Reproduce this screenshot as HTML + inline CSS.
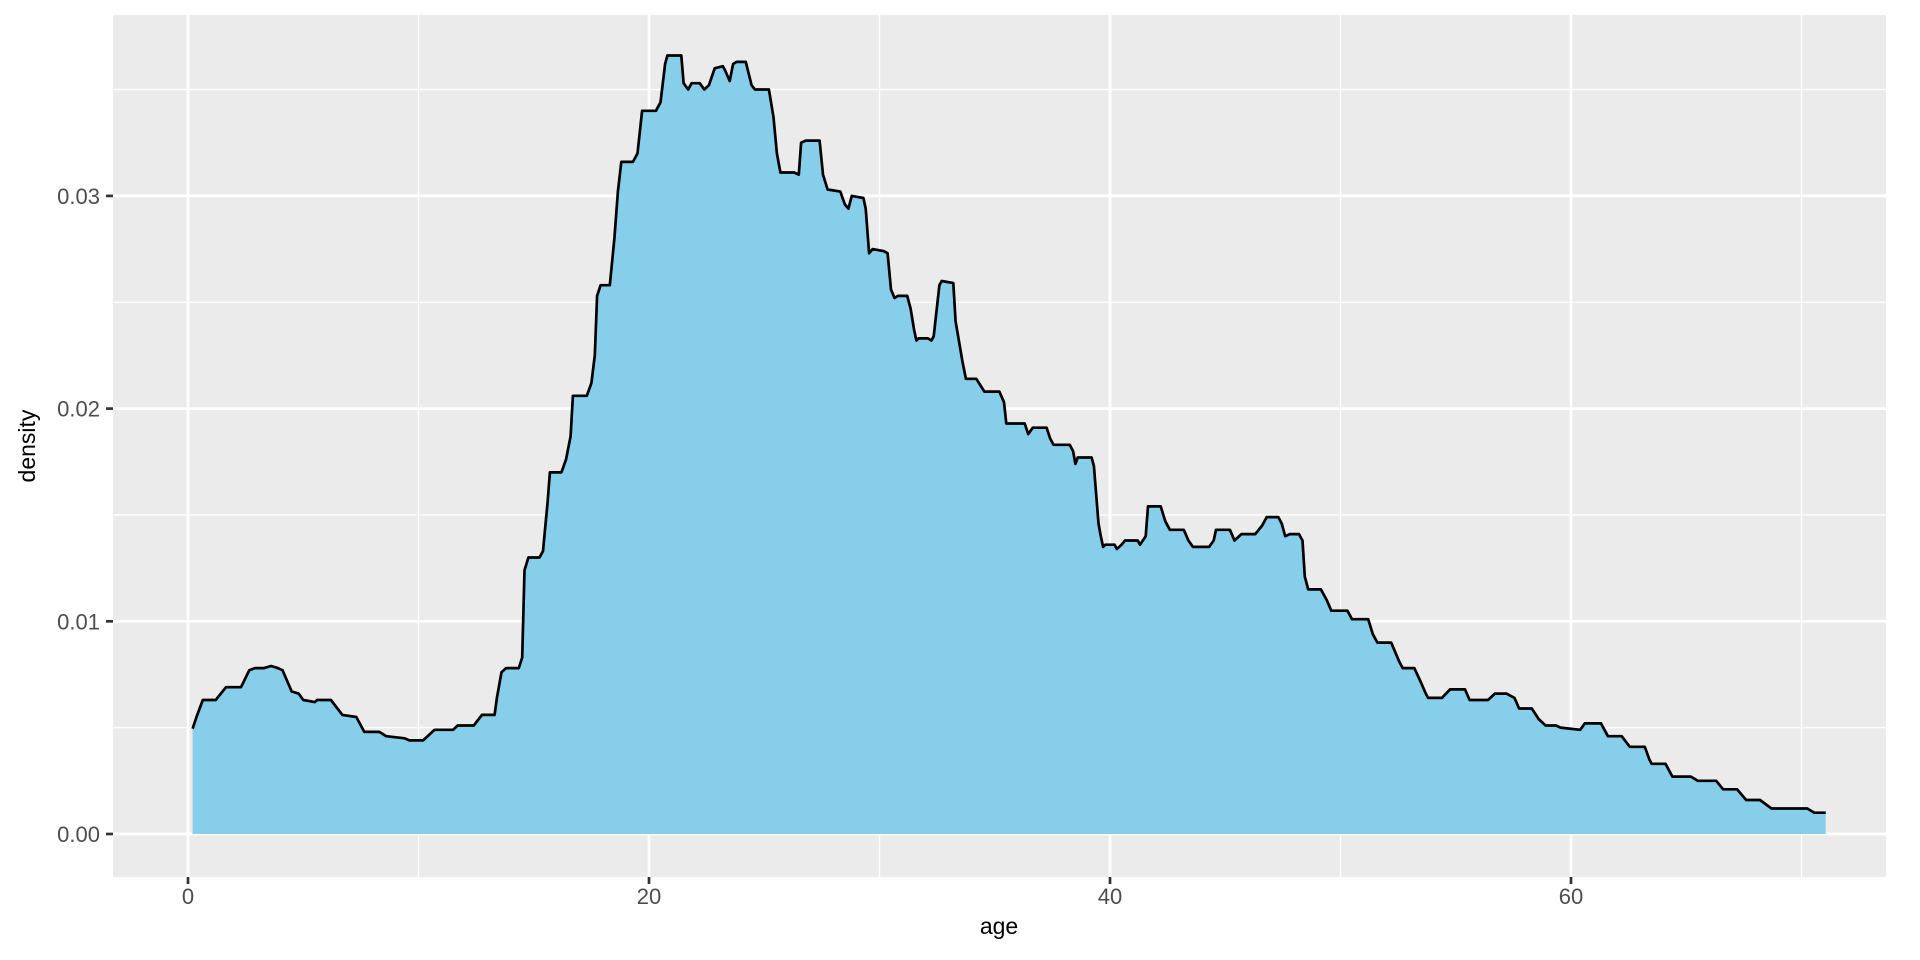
<!DOCTYPE html>
<html><head><meta charset="utf-8"><style>
html,body{margin:0;padding:0;background:#fff;}
svg{display:block;font-family:"Liberation Sans",sans-serif;}
</style></head><body>
<svg id="chart" width="1920" height="960" viewBox="0 0 1920 960">
<rect x="0" y="0" width="1920" height="960" fill="#fff"/>
<rect x="113" y="15" width="1773" height="862" fill="#ebebeb"/>
<g id="grid"></g>
<g id="marks"></g>
<g id="axes"></g>
<text x="999" y="934" font-size="23" fill="#000" text-anchor="middle">age</text>
<text x="35" y="446" font-size="23" fill="#000" text-anchor="middle" transform="rotate(-90 35 446)">density</text>
</svg>
<script>
const ages=[0.2,0.37,0.64,1.2,1.65,2.3,2.66,2.9,3.3,3.6,3.9,4.1,4.5,4.8,5.0,5.5,5.6,6.2,6.7,7.3,7.65,8.3,8.6,9.4,9.6,10.2,10.7,11.5,11.7,12.4,12.75,13.3,13.4,13.6,13.8,14.35,14.5,14.6,14.77,15.25,15.4,15.6,15.7,16.2,16.4,16.6,16.7,17.3,17.5,17.65,17.75,17.9,18.3,18.5,18.65,18.8,19.3,19.5,19.7,20.3,20.5,20.7,20.8,21.4,21.5,21.7,21.85,22.2,22.4,22.6,22.85,23.2,23.3,23.5,23.65,23.8,24.2,24.45,24.6,25.2,25.4,25.55,25.7,26.3,26.5,26.6,26.8,27.4,27.55,27.75,28.3,28.5,28.65,28.8,29.3,29.4,29.55,29.7,30.2,30.35,30.5,30.65,30.8,31.2,31.35,31.5,31.6,31.7,32.1,32.25,32.35,32.6,32.7,33.2,33.3,33.6,33.75,34.2,34.55,34.65,35.2,35.4,35.5,35.75,36.3,36.45,36.65,37.25,37.4,37.55,38.25,38.4,38.5,38.6,39.2,39.3,39.5,39.6,39.7,39.8,40.2,40.3,40.5,40.65,41.2,41.3,41.55,41.65,42.2,42.4,42.6,43.2,43.4,43.6,44.3,44.5,44.6,45.2,45.4,45.7,46.3,46.6,46.8,47.3,47.45,47.6,47.8,48.2,48.35,48.45,48.6,49.15,49.4,49.6,50.3,50.5,51.2,51.4,51.6,52.2,52.55,52.7,53.2,53.5,53.7,53.8,54.4,54.75,55.4,55.6,56.4,56.7,57.2,57.55,57.75,58.3,58.6,58.9,59.35,59.55,60.4,60.6,61.3,61.6,62.2,62.55,63.2,63.4,63.5,64.1,64.4,65.2,65.5,66.3,66.6,67.2,67.6,68.2,68.7,70.25,70.55,71.05];
const densities=[0.00495,0.0055,0.0063,0.0063,0.0069,0.0069,0.0077,0.0078,0.0078,0.0079,0.0078,0.0077,0.0067,0.0066,0.0063,0.0062,0.0063,0.0063,0.0056,0.0055,0.0048,0.0048,0.0046,0.0045,0.0044,0.0044,0.0049,0.0049,0.0051,0.0051,0.0056,0.0056,0.0064,0.0076,0.0078,0.0078,0.0083,0.0124,0.0130,0.0130,0.0133,0.0156,0.0170,0.0170,0.0176,0.0187,0.0206,0.0206,0.0212,0.0225,0.0253,0.0258,0.0258,0.0280,0.0302,0.0316,0.0316,0.0320,0.0340,0.0340,0.0344,0.0362,0.0366,0.0366,0.0353,0.0350,0.0353,0.0353,0.0350,0.0352,0.0360,0.0361,0.0359,0.0354,0.0362,0.0363,0.0363,0.0352,0.0350,0.0350,0.0337,0.0320,0.0311,0.0311,0.0310,0.0325,0.0326,0.0326,0.0310,0.0303,0.0302,0.0296,0.0294,0.0300,0.0299,0.0294,0.0273,0.0275,0.0274,0.0273,0.0256,0.0252,0.0253,0.0253,0.0247,0.0237,0.0232,0.0233,0.0233,0.0232,0.0234,0.0258,0.0260,0.0259,0.0241,0.0222,0.0214,0.0214,0.0208,0.0208,0.0208,0.0203,0.0193,0.0193,0.0193,0.0188,0.0191,0.0191,0.0186,0.0183,0.0183,0.0180,0.0174,0.0177,0.0177,0.0173,0.0146,0.0140,0.0135,0.0136,0.0136,0.0134,0.0136,0.0138,0.0138,0.0136,0.0140,0.0154,0.0154,0.0147,0.0143,0.0143,0.0138,0.0135,0.0135,0.0138,0.0143,0.0143,0.0138,0.0141,0.0141,0.0145,0.0149,0.0149,0.0146,0.0140,0.0141,0.0141,0.0138,0.0121,0.0115,0.0115,0.0110,0.0105,0.0105,0.0101,0.0101,0.0094,0.0090,0.0090,0.0081,0.0078,0.0078,0.0071,0.0066,0.0064,0.0064,0.0068,0.0068,0.0063,0.0063,0.0066,0.0066,0.0064,0.0059,0.0059,0.0054,0.0051,0.0051,0.0050,0.0049,0.0052,0.0052,0.0046,0.0046,0.0041,0.0041,0.0035,0.0033,0.0033,0.0027,0.0027,0.0025,0.0025,0.0021,0.0021,0.0016,0.0016,0.0012,0.0012,0.0010,0.0010];
const xTicks=[0,20,40,60];
const xMinor=[10,30,50,70];
const yTicks=[0,0.01,0.02,0.03];
const yTickLabels=["0.00","0.01","0.02","0.03"];
const yMinor=[0.005,0.015,0.025,0.035];

const NS="http://www.w3.org/2000/svg";
const X0=113,X1=1886,Y0=15,Y1=877;
function xs(a){return 188+a*23.05;}
function ys(d){return 834-d*21270;}
function mk(tag,attrs,parent){const e=document.createElementNS(NS,tag);for(const k in attrs)e.setAttribute(k,attrs[k]);parent.appendChild(e);return e;}
const grid=document.getElementById('grid'),marks=document.getElementById('marks'),axes=document.getElementById('axes');
yMinor.forEach(v=>{const l=mk('line',{x1:X0,x2:X1,y1:ys(v),y2:ys(v),stroke:'#fff','stroke-width':1.3},grid);

});
xMinor.forEach(v=>{const l=mk('line',{x1:xs(v),x2:xs(v),y1:Y0,y2:Y1,stroke:'#fff','stroke-width':1.3},grid);

});
yTicks.forEach((v,i)=>{const l=mk('line',{x1:X0,x2:X1,y1:ys(v),y2:ys(v),stroke:'#fff','stroke-width':2.7},grid);


const t=mk('line',{x1:X0-7,x2:X0,y1:ys(v),y2:ys(v),stroke:'#333','stroke-width':2.7},axes);


const tx=mk('text',{x:X0-13,y:ys(v)+8,'font-size':22,fill:'#4d4d4d','text-anchor':'end'},axes);
tx.textContent=yTickLabels[i];

});
xTicks.forEach(v=>{const l=mk('line',{x1:xs(v),x2:xs(v),y1:Y0,y2:Y1,stroke:'#fff','stroke-width':2.7},grid);


const t=mk('line',{x1:xs(v),x2:xs(v),y1:Y1,y2:Y1+7,stroke:'#333','stroke-width':2.7},axes);


const tx=mk('text',{x:xs(v),y:Y1+27,'font-size':22,fill:'#4d4d4d','text-anchor':'middle'},axes);
tx.textContent=String(v);

});
let pts=ages.map((a,i)=>xs(a).toFixed(1)+','+ys(densities[i]).toFixed(1));
const area=mk('polygon',{points:xs(ages[0]).toFixed(1)+','+ys(0)+' '+pts.join(' ')+' '+xs(ages[ages.length-1]).toFixed(1)+','+ys(0),fill:'#87ceeb',stroke:'none'},marks);


const line=mk('polyline',{points:pts.join(' '),fill:'none',stroke:'#000','stroke-width':2.7,'stroke-linejoin':'round'},marks);


</script>
</body></html>
